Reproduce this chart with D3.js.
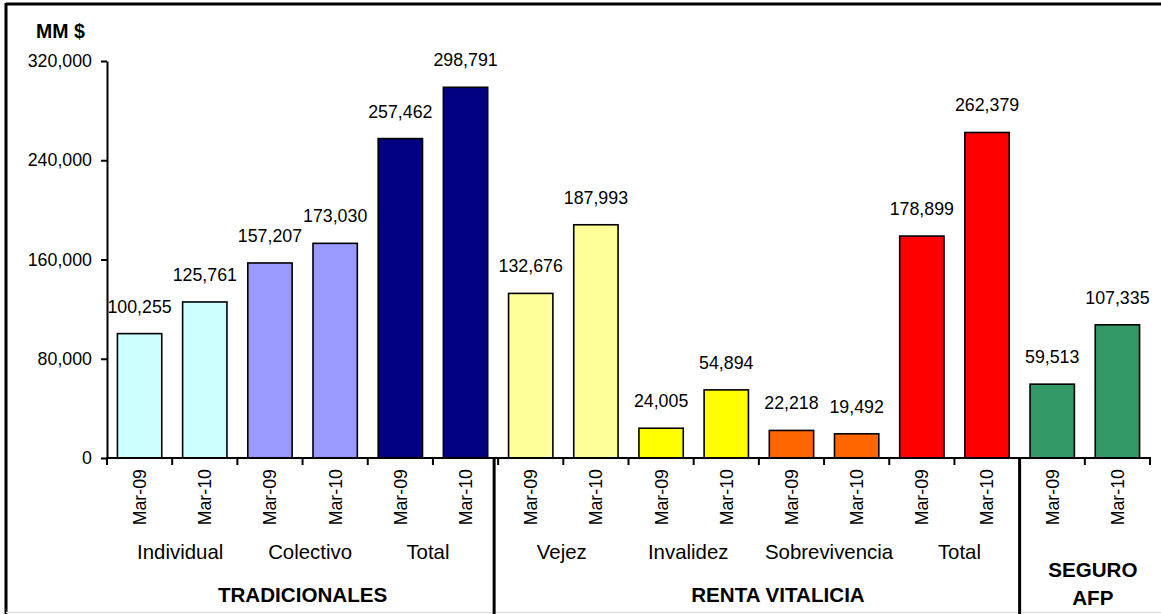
<!DOCTYPE html>
<html><head><meta charset="utf-8">
<script src="https://cdn.jsdelivr.net/npm/d3@7"></script>
<style>
html,body{margin:0;padding:0;background:#fff;}
text{font-family:Arial,"Liberation Sans",sans-serif;fill:#000;}
</style></head>
<body><svg id="c" width="1161" height="614"></svg>
<script>
const periods = ["Mar-09","Mar-10","Mar-09","Mar-10","Mar-09","Mar-10","Mar-09","Mar-10","Mar-09","Mar-10","Mar-09","Mar-10","Mar-09","Mar-10","Mar-09","Mar-10"];
const values = [100255,125761,157207,173030,257462,298791,132676,187993,24005,54894,22218,19492,178899,262379,59513,107335];
const colors = ["#CCFFFF","#CCFFFF","#9999FF","#9999FF","#000080","#000080","#FFFF99","#FFFF99","#FFFF00","#FFFF00","#FF6600","#FF6600","#FF0000","#FF0000","#339966","#339966"];
const subGroups = ["Individual","Colectivo","Total","Vejez","Invalidez","Sobrevivencia","Total"];
const mainGroups = ["TRADICIONALES","RENTA VITALICIA","SEGURO AFP"];
const yTicks = [0,80000,160000,240000,320000];

const svg = d3.select("#c");
const L = 107, R = 1150, T = 61, B = 458;
const idx = d3.range(values.length);
const x = d3.scaleBand().domain(idx).range([L,R]).paddingInner(0.32).paddingOuter(0.16);
const step = x.step();
const y = d3.scaleLinear().domain([0,320000]).range([B,T]);
const fmt = d3.format(",");

// frame
svg.append("line").attr("x1",6).attr("x2",1161).attr("y1",4).attr("y2",4).attr("stroke","#000").attr("stroke-width",3);
svg.append("line").attr("x1",6).attr("x2",6).attr("y1",3).attr("y2",614).attr("stroke","#000").attr("stroke-width",3);
svg.append("line").attr("x1",6).attr("x2",1161).attr("y1",612.5).attr("y2",612.5).attr("stroke","#ddd").attr("stroke-width",1.5);

// bars
svg.selectAll("rect.bar").data(idx).join("rect").attr("class","bar")
  .attr("x",i=>x(i)).attr("width",x.bandwidth())
  .attr("y",i=>y(values[i])).attr("height",i=>B-y(values[i]))
  .attr("fill",i=>colors[i]).attr("stroke","#000").attr("stroke-width",1.6);

// value labels
svg.selectAll("text.val").data(idx).join("text").attr("class","val")
  .attr("x",i=>x(i)+x.bandwidth()/2).attr("y",i=>y(values[i])-21)
  .attr("text-anchor","middle").style("font-size","17.8px").text(i=>fmt(values[i]));

// y axis
const yAxis = svg.append("g").attr("transform",`translate(${L},0)`)
  .call(d3.axisLeft(y).tickValues(yTicks).tickFormat(d=>d===0?"0":fmt(d)).tickSize(6).tickSizeOuter(0).tickPadding(9));
yAxis.select(".domain").attr("stroke-width",2);
yAxis.selectAll(".tick line").attr("stroke-width",2);
yAxis.selectAll("text").style("font-size","17.8px").style("font-family","Arial, 'Liberation Sans', sans-serif").attr("fill","#000");

// x axis line and boundary ticks
svg.append("line").attr("x1",L-1).attr("x2",R+1).attr("y1",B).attr("y2",B).attr("stroke","#000").attr("stroke-width",2);
svg.selectAll("line.xt").data(d3.range(values.length+1)).join("line").attr("class","xt")
  .attr("x1",k=>L+k*step).attr("x2",k=>L+k*step).attr("y1",B).attr("y2",B+7)
  .attr("stroke","#000").attr("stroke-width",2);

// period labels
svg.selectAll("text.per").data(idx).join("text").attr("class","per")
  .attr("transform",i=>`translate(${x(i)+x.bandwidth()/2},${B+11}) rotate(-90)`)
  .attr("text-anchor","end").attr("dy","0.36em").style("font-size","17.8px").text(i=>periods[i]);

// sub group labels (centred on group boundary ticks, with small offsets as in original)
const subPos = [1,3,5,7,9,11,13];
const subOff = [8,7.5,-5,-1.5,-5.5,5,5];
svg.selectAll("text.sub").data(subGroups).join("text").attr("class","sub")
  .attr("x",(d,k)=>L+subPos[k]*step+subOff[k]).attr("y",559)
  .attr("text-anchor","middle").style("font-size","20.4px").text(d=>d);

// main group labels
const mainX = [L+3*step, 778, L+15*step+8];
svg.selectAll("text.main").data(mainGroups).join("text").attr("class","main")
  .attr("x",(d,k)=>mainX[k]).attr("y",(d,k)=>k===2?577:602)
  .attr("text-anchor","middle").style("font-size","20.6px").style("font-weight","bold")
  .each(function(d,k){
    const t=d3.select(this);
    if(k===2){
      const w=d.split(" ");
      t.append("tspan").attr("x",mainX[k]).text(w[0]);
      t.append("tspan").attr("x",mainX[k]).attr("dy",28).text(w[1]);
    } else t.text(d);
  });

// separators
const sepPos = [6,14];
svg.selectAll("line.sep").data(sepPos).join("line").attr("class","sep")
  .attr("x1",(d,k)=>L+d*step-(k===0?4:0)).attr("x2",(d,k)=>L+d*step-(k===0?4:0))
  .attr("y1",B).attr("y2",614).attr("stroke","#000").attr("stroke-width",3);

// unit label
svg.append("text").attr("x",36).attr("y",38).style("font-size","19.5px").style("font-weight","bold").text("MM $");
</script></body></html>
